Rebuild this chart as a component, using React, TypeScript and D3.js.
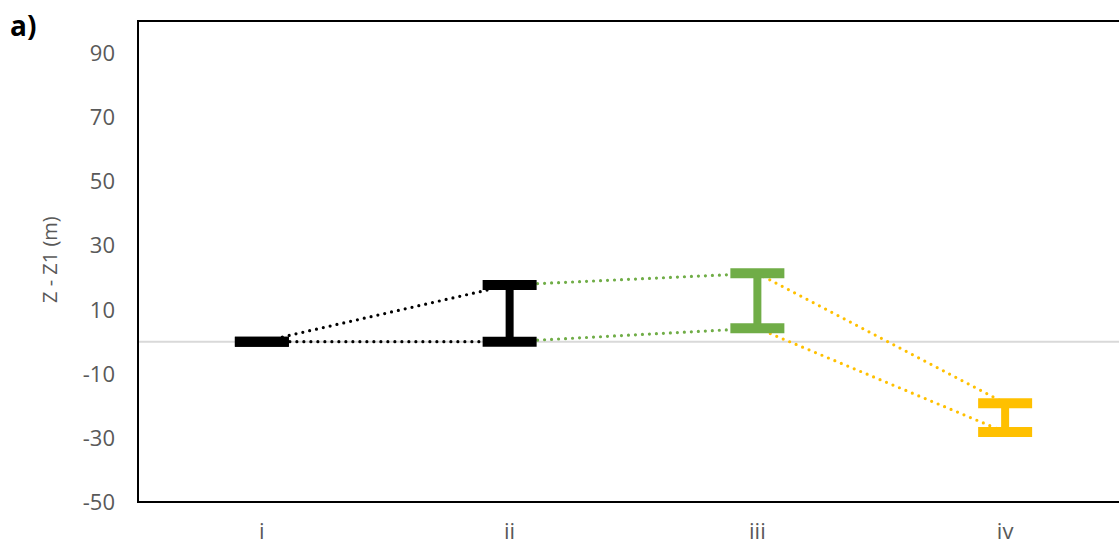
import React from 'react';
import * as d3 from 'd3';

// categories and error bar ends (Z - Z1, m)
const categories = ['i', 'ii', 'iii', 'iv'];
const lowerValues = [0, 0, 4.2, -28.2];
const upperValues = [0, 17.7, 21.3, -19.2];
const barColors = ['#000000', '#000000', '#70AD47', '#FFC000'];
const yTicks = [-50, -30, -10, 10, 30, 50, 70, 90];

const width = 1119;
const height = 546;
const margin = {top: 21, left: 138, bottom: 44};
const plotRight = 1129;

const App: React.FC = () => {
    const x = d3.scaleBand<string>()
        .domain(categories)
        .range([margin.left, plotRight]);
    const y = d3.scaleLinear()
        .domain([-50, 100])
        .range([height - margin.bottom, margin.top]);

    const cx = (c: string) => x(c)! + x.bandwidth() / 2;
    const capHalf = 27;
    const font = '"Open Sans", "Liberation Sans", sans-serif';

    return (
        <svg width={width} height={height}
             style={{position: 'fixed', left: 0, top: 0, background: '#fff'}}>
            {/* zero line */}
            <line x1={margin.left} x2={plotRight} y1={y(0)} y2={y(0)} stroke="#d9d9d9" strokeWidth={2}/>

            {/* dotted connectors */}
            {categories.slice(1).map((c, i) => {
                const prev = categories[i];
                return (
                    <g key={'conn' + c} stroke={barColors[i + 1]} strokeWidth={3.2}
                       strokeDasharray="0 7" strokeLinecap="round" fill="none">
                        <line x1={cx(prev)} y1={y(upperValues[i])} x2={cx(c)} y2={y(upperValues[i + 1])}/>
                        <line x1={cx(prev)} y1={y(lowerValues[i])} x2={cx(c)} y2={y(lowerValues[i + 1])}/>
                    </g>
                );
            })}

            {/* error bars */}
            {categories.map((c, i) => (
                <g key={'bar' + c} stroke={barColors[i]}>
                    <line x1={cx(c)} x2={cx(c)} y1={y(lowerValues[i])} y2={y(upperValues[i])} strokeWidth={8}/>
                    <line x1={cx(c) - capHalf} x2={cx(c) + capHalf} y1={y(lowerValues[i])} y2={y(lowerValues[i])}
                          strokeWidth={10}/>
                    <line x1={cx(c) - capHalf} x2={cx(c) + capHalf} y1={y(upperValues[i])} y2={y(upperValues[i])}
                          strokeWidth={10}/>
                </g>
            ))}

            {/* plot frame */}
            <rect x={margin.left} y={margin.top} width={plotRight - margin.left}
                  height={height - margin.bottom - margin.top} fill="none" stroke="#000" strokeWidth={2}/>

            {/* y tick labels */}
            {yTicks.map(t => (
                <text key={t} x={115} y={y(t)} dy="0.36em" textAnchor="end" fontSize={22}
                      fontFamily={font} fill="#595959">{t}</text>
            ))}

            {/* category labels */}
            {categories.map(c => (
                <text key={c} x={cx(c)} y={539} textAnchor="middle" fontSize={22}
                      fontFamily={font} fill="#595959">{c}</text>
            ))}

            {/* axis title */}
            <text transform={`translate(57, ${y(10) - 50}) rotate(-90)`} textAnchor="middle" fontSize={20}
                  fontFamily={font} fill="#595959">Z - Z1 (m)</text>

            <text x={10} y={36} fontSize={28} fontWeight="bold" fontFamily={font} fill="#000">a)</text>
        </svg>
    );
};

export default App;
